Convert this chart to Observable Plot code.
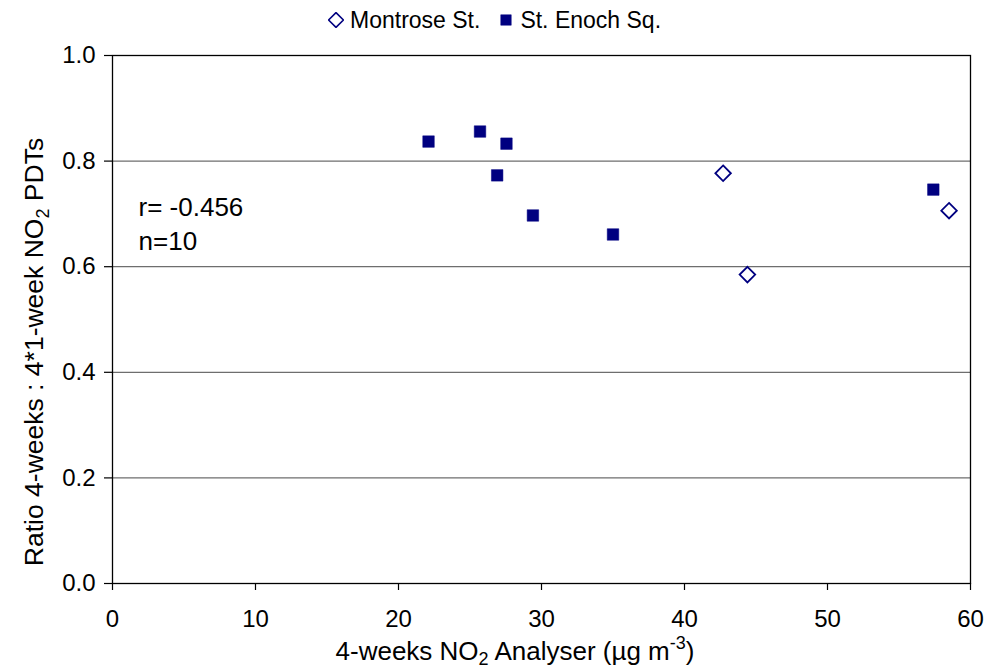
<!DOCTYPE html>
<html><head><meta charset="utf-8">
<script src="https://cdn.jsdelivr.net/npm/d3@7"></script>
<script src="https://cdn.jsdelivr.net/npm/@observablehq/plot@0.6"></script>
<style>
body{margin:0;background:#fff;font-family:"Liberation Sans",Arial,sans-serif}
#wrap{position:relative;width:989px;height:670px}
#legend{position:absolute;top:6px;left:328px;display:flex;gap:18px;font-size:23px;line-height:28px;color:#000}
#legend span.item{display:flex;align-items:center;gap:6px}
</style></head><body>
<div id="wrap"><div id="chart"></div><div id="legend"></div></div>
<script>
const seriesNames = ["Montrose St.", "St. Enoch Sq."];
const montroseX = [42.7, 44.4, 58.5];
const montroseY = [0.777, 0.585, 0.706];
const enochX = [22.1, 25.7, 27.55, 26.9, 29.4, 35.0, 57.4];
const enochY = [0.837, 0.856, 0.833, 0.773, 0.697, 0.661, 0.746];
const xTicks = [0, 10, 20, 30, 40, 50, 60];
const yTicks = [0, 0.2, 0.4, 0.6, 0.8, 1.0];
const gridY = [0.2, 0.4, 0.6, 0.8];
const stats = ["r= -0.456", "n=10"];

const navy = "#000080";
const montrose = montroseX.map((x, i) => ({x, y: montroseY[i]}));
const enoch = enochX.map((x, i) => ({x, y: enochY[i]}));

const plot = Plot.plot({
  width: 989, height: 670,
  marginLeft: 112, marginRight: 19, marginTop: 55, marginBottom: 87,
  style: {fontFamily: "'Liberation Sans', Arial, sans-serif", color: "#000", background: "#fff"},
  x: {domain: [0, 60]},
  y: {domain: [0, 1]},
  marks: [
    Plot.ruleY(gridY, {stroke: "#6e6e6e", strokeWidth: 1.2}),
    Plot.frame({stroke: "#000", strokeWidth: 1.3}),
    Plot.axisY({ticks: yTicks, tickFormat: d => d.toFixed(1), tickSize: 8, tickPadding: 9, fontSize: 24, label: null, strokeWidth: 1.2}),
    Plot.axisX({ticks: xTicks, tickSize: 7, tickPadding: 19, fontSize: 24, label: null, strokeWidth: 1.2}),
    Plot.dot(enoch, {x: "x", y: "y", symbol: "square", r: 6.5, fill: navy, stroke: navy, strokeWidth: 0.5}),
    Plot.dot(montrose, {x: "x", y: "y", symbol: "diamond2", r: 7, fill: "#fff", stroke: navy, strokeWidth: 1.8}),
    Plot.text([stats.join("\n")], {x: 1.82, y: 0.684, text: d => d, textAnchor: "start", fontSize: 26, lineHeight: 1.3, fill: "#000"})
  ]
});
document.getElementById("chart").appendChild(plot);

const svg = d3.select(plot);
// y axis title
const yt = svg.append("text")
  .attr("transform", "translate(43,352) rotate(-90)")
  .attr("text-anchor", "middle")
  .attr("font-size", 26.5).attr("fill", "#000");
yt.append("tspan").text("Ratio 4-weeks : 4*1-week NO");
yt.append("tspan").text("2").attr("font-size", 18).attr("dy", 6);
yt.append("tspan").text(" PDTs").attr("dy", -6);
// x axis title
const xt = svg.append("text")
  .attr("x", 515).attr("y", 660)
  .attr("text-anchor", "middle")
  .attr("font-size", 26).attr("fill", "#000");
xt.append("tspan").text("4-weeks NO");
xt.append("tspan").text("2").attr("font-size", 18).attr("dy", 5);
xt.append("tspan").text(" Analyser (µg m").attr("dy", -5);
xt.append("tspan").text("-3").attr("font-size", 18).attr("dy", -11);
xt.append("tspan").text(")").attr("dy", 11);

// legend
const legend = d3.select("#legend");
const sym = [d3.symbol(d3.symbolDiamond2, 140)(), d3.symbol(d3.symbolSquare, 110)()];
seriesNames.forEach((name, i) => {
  const item = legend.append("span").attr("class", "item");
  const s = item.append("svg").attr("width", 16).attr("height", 16).attr("viewBox", "-8 -8 16 16");
  s.append("path").attr("d", sym[i])
    .attr("fill", i === 0 ? "#fff" : navy)
    .attr("stroke", navy).attr("stroke-width", i === 0 ? 1.6 : 0.5);
  item.append("span").text(name);
});
</script>
</body></html>
